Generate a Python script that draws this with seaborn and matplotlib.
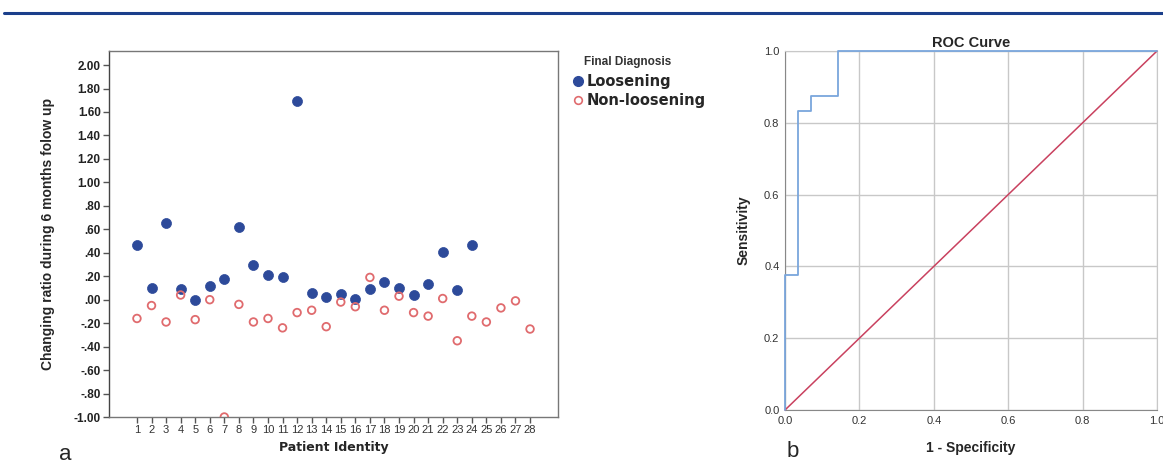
import seaborn as sns
import numpy as np
import pandas as pd
from matplotlib import pyplot as plt
from matplotlib.lines import Line2D


## DADOS

pacientes = list(range(1, 29))

# Loosening (pacientes 1-24)
loosening = [0.47, 0.10, 0.65, 0.09, 0.00, 0.12, 0.18, 0.62, 0.30, 0.21, 0.19, 1.69,
             0.06, 0.02, 0.05, 0.01, 0.09, 0.15, 0.10, 0.04, 0.13, 0.41, 0.08, 0.47]

# Non-loosening (pacientes 1-28)
non_loosening = [-0.16, -0.05, -0.19, 0.04, -0.17, 0.00, -1.00, -0.04, -0.19, -0.16,
                 -0.24, -0.11, -0.09, -0.23, -0.02, -0.06, 0.19, -0.09, 0.03, -0.11,
                 -0.14, 0.01, -0.35, -0.14, -0.19, -0.07, -0.01, -0.25]

y_ticks = [2.0, 1.8, 1.6, 1.4, 1.2, 1.0, 0.8, 0.6, 0.4, 0.2, 0.0,
           -0.2, -0.4, -0.6, -0.8, -1.0]
y_ticklabels = ['2.00', '1.80', '1.60', '1.40', '1.20', '1.00', '.80', '.60', '.40', '.20', '.00',
                '-.20', '-.40', '-.60', '-.80', '-1.00']

# curva ROC (1 - especificidade, sensibilidade)
roc_fpr = [0.0, 0.0, 0.036, 0.036, 0.071, 0.071, 0.143, 0.143, 1.0]
roc_tpr = [0.0, 0.375, 0.375, 0.833, 0.833, 0.875, 0.875, 1.0, 1.0]
ref_x = [0.0, 1.0]
ref_y = [0.0, 1.0]
roc_ticks = [0.0, 0.2, 0.4, 0.6, 0.8, 1.0]
roc_ticklabels = ['0.0', '0.2', '0.4', '0.6', '0.8', '1.0']

df_L = pd.DataFrame({'Paciente': pacientes[:len(loosening)], 'Ratio': loosening})
df_N = pd.DataFrame({'Paciente': pacientes, 'Ratio': non_loosening})
df_roc = pd.DataFrame({'fpr': roc_fpr, 'tpr': roc_tpr})
df_ref = pd.DataFrame({'x': ref_x, 'y': ref_y})

azul = '#2d4a9a'
vermelho = '#e06b6e'

sns.set_style('white')
plt.rcParams['font.family'] = ['Liberation Sans', 'DejaVu Sans']

fig = plt.figure(figsize=(11.63, 4.70), dpi=100)

# linha azul no topo
fig.add_artist(Line2D([4/1163, 1.0], [1 - 13/470, 1 - 13/470], color='#1b3f8b', lw=2.2))


## GRAFICO a - SCATTER

ax1 = fig.add_axes([109/1163, 1 - 417/470, 449/1163, 366/470])
sns.scatterplot(data=df_L, x='Paciente', y='Ratio', ax=ax1, color=azul, s=52,
                edgecolor=azul, linewidth=0.5, zorder=3)
sns.scatterplot(data=df_N, x='Paciente', y='Ratio', ax=ax1, facecolor='none',
                edgecolor=vermelho, s=30, linewidth=1.3, zorder=3)

ax1.set_xlim(-0.92, 29.92)
ax1.set_ylim(-1.0, 2.12)
ax1.set_xticks(pacientes)
ax1.set_xticklabels([str(p) for p in pacientes], fontsize=8, color='#333333')
ax1.set_yticks(y_ticks)
ax1.set_yticklabels(y_ticklabels, fontsize=8.5, fontweight='bold', color='#222222')
ax1.tick_params(axis='both', direction='out', length=4, width=1, color='#555555', pad=2,
                left=True, bottom=True)
for sp in ax1.spines.values():
    sp.set_color('#777777')
    sp.set_linewidth(1)
ax1.spines['left'].set_color('#444444')
ax1.set_xlabel('Patient Identity', fontsize=9, fontweight='bold', family='DejaVu Sans',
               labelpad=4)
ax1.set_ylabel('Changing ratio during 6 months folow up', fontsize=10, fontweight='bold',
               labelpad=13)

# legenda
fig.text(584/1163, 1 - 62/470, 'Final Diagnosis', fontsize=8.5, fontweight='bold',
         color='#333333', ha='left', va='center')
handles = [Line2D([], [], marker='o', ls='', color=azul, markersize=7),
           Line2D([], [], marker='o', ls='', markerfacecolor='none', markeredgecolor=vermelho,
                  markersize=5.5, markeredgewidth=1.2)]
leg = fig.legend(handles, ['Loosening', 'Non-loosening'], loc='upper left',
                 bbox_to_anchor=(559/1163, 1 - 64/470), frameon=False,
                 handletextpad=0.0, handlelength=1.2, labelspacing=0.25, borderpad=0.2,
                 prop={'family': 'DejaVu Sans', 'weight': 'bold', 'size': 10.5})

fig.text(65/1163, 1 - 460/470, 'a', fontsize=16, ha='center', va='baseline')


## GRAFICO b - CURVA ROC

ax2 = fig.add_axes([785/1163, 1 - 410/470, 372/1163, 359/470])
ax2.grid(True, color='#c8c8c8', lw=1)
ax2.set_axisbelow(True)
sns.lineplot(data=df_ref, x='x', y='y', ax=ax2, color='#c9415f', lw=1.1,
             sort=False, estimator=None, clip_on=False, zorder=4)
sns.lineplot(data=df_roc, x='fpr', y='tpr', ax=ax2, color='#7aa6dc', lw=1.3,
             sort=False, estimator=None, clip_on=False, zorder=5)
ax2.set_xlim(0, 1)
ax2.set_ylim(0, 1)
ax2.set_xticks(roc_ticks)
ax2.set_xticklabels(roc_ticklabels, fontsize=8, color='#333333')
ax2.set_yticks(roc_ticks)
ax2.set_yticklabels(roc_ticklabels, fontsize=8, color='#333333')
ax2.tick_params(axis='x', length=0, pad=4)
ax2.tick_params(axis='y', length=0, pad=4)
for sp in ax2.spines.values():
    sp.set_color('#c8c8c8')
ax2.spines['left'].set_color('#888888')
ax2.spines['bottom'].set_color('#888888')
ax2.set_title('ROC Curve', fontsize=10.5, fontweight='bold', pad=3)
ax2.set_xlabel('1 - Specificity', fontsize=10, fontweight='bold', labelpad=11)
ax2.set_ylabel('Sensitivity', fontsize=10, fontweight='bold', labelpad=10)

fig.text(793/1163, 1 - 457/470, 'b', fontsize=16, ha='center', va='baseline')

plt.savefig('out.png', dpi=100)
